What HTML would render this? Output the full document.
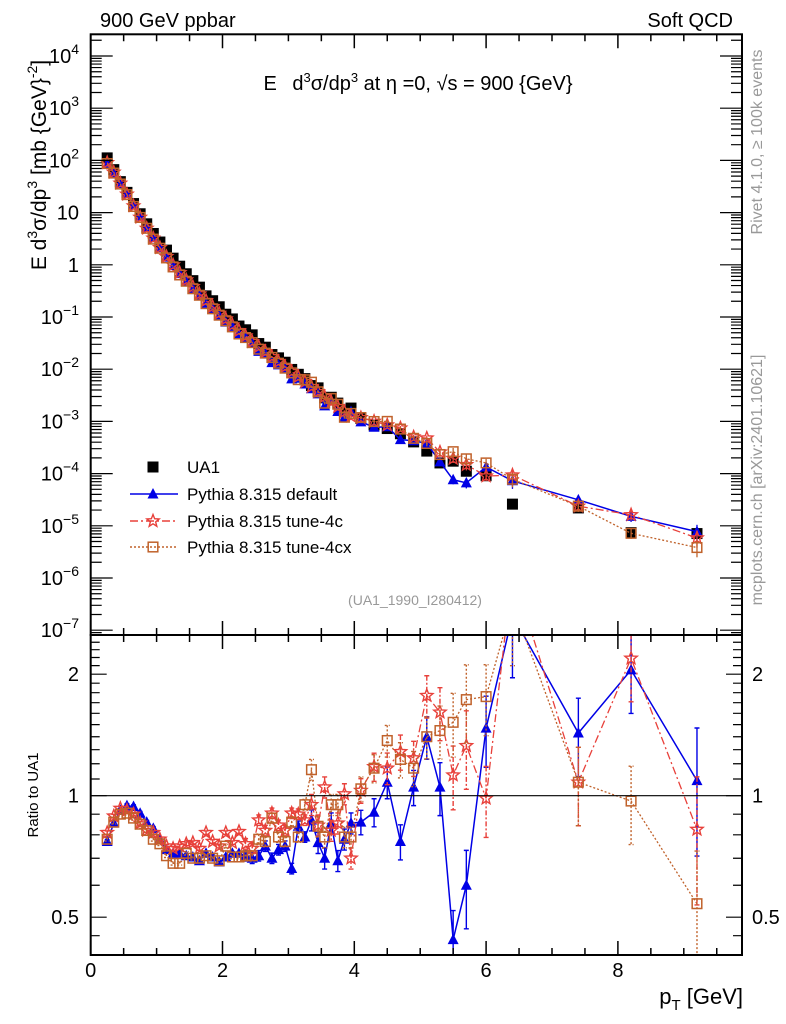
<!DOCTYPE html>
<html><head><meta charset="utf-8">
<style>
html,body{margin:0;padding:0;background:#fff;}
svg{display:block;font-family:"Liberation Sans",Arial,sans-serif;}
</style></head>
<body>
<svg id="chart" xmlns="http://www.w3.org/2000/svg" width="786" height="1024" viewBox="0 0 786 1024">
<defs>
<clipPath id="clipTop"><rect x="90.7" y="34.3" width="651.3" height="600.7"/></clipPath>
<clipPath id="clipRat"><rect x="90.7" y="635" width="651.3" height="320"/></clipPath>
</defs>
<rect x="0" y="0" width="786" height="1024" fill="#fff"/>
<text x="100" y="27" font-size="20">900 GeV ppbar</text>
<text x="733" y="27" font-size="20" text-anchor="end">Soft QCD</text>
<text x="418" y="90" font-size="20" text-anchor="middle">E <tspan dx="10">d</tspan><tspan dy="-8" font-size="13">3</tspan><tspan dy="8">σ/dp</tspan><tspan dy="-8" font-size="13">3</tspan><tspan dy="8"> at η =0, √s = 900 {GeV}</tspan></text>
<text x="415" y="605" font-size="14" fill="#999" text-anchor="middle">(UA1_1990_I280412)</text>
<text transform="translate(762,142) rotate(-90)" font-size="16" fill="#999" text-anchor="middle">Rivet 4.1.0, ≥ 100k events</text>
<text transform="translate(762,480) rotate(-90)" font-size="16" fill="#999" text-anchor="middle">mcplots.cern.ch [arXiv:2401.10621]</text>
<text transform="translate(46,165) rotate(-90)" font-size="21" text-anchor="middle">E d<tspan dy="-9" font-size="14">3</tspan><tspan dy="9">σ/dp</tspan><tspan dy="-9" font-size="14">3</tspan><tspan dy="9"> [mb {GeV}</tspan><tspan dy="-9" font-size="14">-2</tspan><tspan dy="9">]</tspan></text>
<text transform="translate(38,795) rotate(-90)" font-size="15" text-anchor="middle">Ratio to UA1</text>
<text x="743" y="1004" font-size="22" text-anchor="end">p<tspan dy="6" font-size="15">T</tspan><tspan dy="-6"> [GeV]</tspan></text>
<g id="gTop" clip-path="url(#clipTop)"></g>
<g id="gRat" clip-path="url(#clipRat)"></g>
<g id="gAxes"></g>
<g id="gLegend"></g>
</svg>
<script>
const pT = [0.25,0.35,0.45,0.55,0.65,0.75,0.85,0.95,1.05,1.15,1.25,1.35,1.45,1.55,1.65,1.75,1.85,1.95,2.05,2.15,2.25,2.35,2.45,2.55,2.65,2.75,2.85,2.95,3.05,3.15,3.25,3.35,3.45,3.55,3.65,3.75,3.85,3.95,4.1,4.3,4.5,4.7,4.9,5.1,5.3,5.5,5.7,6.0,6.4,7.4,8.2,9.2];
const ua1 = [111.7,66.5,39.2,24.4,14.9,9.5,6.1,3.98,2.73,1.91,1.34,0.94,0.673,0.497,0.373,0.254,0.205,0.157,0.113,0.0918,0.0671,0.0569,0.0455,0.031,0.0264,0.0191,0.0165,0.0136,0.00989,0.00798,0.0066,0.00486,0.00439,0.00283,0.0029,0.00224,0.00152,0.0018,0.00114,8.5e-4,7.3e-4,5.8e-4,4.05e-4,2.7e-4,1.6e-4,1.73e-4,1.11e-4,9.1e-5,2.6e-5,2.2e-5,7.4e-6,7.1e-6];
const ratioDefault = [0.77,0.855,0.92,0.945,0.94,0.905,0.86,0.83,0.78,0.735,0.72,0.72,0.71,0.705,0.69,0.72,0.705,0.685,0.705,0.72,0.72,0.71,0.70,0.71,0.75,0.70,0.735,0.75,0.66,0.84,0.79,0.87,0.765,0.70,0.855,0.69,0.78,0.855,0.86,0.91,1.08,0.77,1.05,1.40,1.05,0.44,0.60,1.47,2.8,1.43,2.05,1.09];
const ratio4c = [0.81,0.89,0.93,0.92,0.90,0.855,0.82,0.81,0.78,0.75,0.74,0.75,0.76,0.765,0.74,0.81,0.77,0.75,0.81,0.765,0.815,0.76,0.74,0.87,0.82,0.905,0.845,0.82,0.905,0.90,0.87,0.95,0.845,1.05,0.82,0.855,1.01,0.70,1.03,1.18,1.17,1.285,1.24,1.77,1.61,1.125,1.33,0.985,3.6,1.08,2.19,0.825];
const ratio4cx = [0.78,0.86,0.90,0.905,0.88,0.85,0.82,0.78,0.76,0.71,0.68,0.68,0.72,0.70,0.70,0.71,0.70,0.69,0.75,0.705,0.705,0.71,0.71,0.78,0.77,0.88,0.79,0.77,0.86,0.79,0.95,1.16,0.84,0.79,0.95,0.95,0.79,0.79,1.04,1.17,1.37,1.23,1.17,1.40,1.45,1.52,1.73,1.76,3.0,1.08,0.97,0.54];
const relErr = [0.01,0.01,0.01,0.01,0.01,0.01,0.01,0.01,0.01,0.01,0.01,0.01,0.01,0.01,0.01,0.01,0.01,0.01,0.01,0.01,0.01,0.03,0.03,0.03,0.03,0.03,0.03,0.03,0.03,0.03,0.03,0.06,0.06,0.06,0.06,0.06,0.06,0.06,0.07,0.08,0.09,0.1,0.1,0.12,0.15,0.18,0.22,0.2,0.3,0.22,0.22,0.35];
const topTicks = ["10^4","10^3","10^2","10","1","10^-1","10^-2","10^-3","10^-4","10^-5","10^-6","10^-7"];
const xTickLabels = [0,2,4,6,8];
const ratioTickLabels = [0.5,1,2];

const NS = "http://www.w3.org/2000/svg";
const L = 90.7, R = 742, T = 34.3, MID = 635, B = 955;
const X = p => L + 65.9 * p;
const YT = v => 56 + 52.2 * (4 - Math.log10(v));
const YR = r => 795.7 - 121.5 * Math.log2(r);
function mk(tag, attrs, parent) {
  const el = document.createElementNS(NS, tag);
  for (const k in attrs) el.setAttribute(k, attrs[k]);
  parent.appendChild(el);
  return el;
}
const gTop = document.getElementById('gTop');
const gRat = document.getElementById('gRat');
const gAxes = document.getElementById('gAxes');
const gLeg = document.getElementById('gLegend');

const BLUE = "#0000e6", RED = "#e8403a", BROWN = "#c0622b";

function drawMarker(type, x, y, parent, name) {
  let el;
  if (type === 'sq') {
    el = mk('rect', {x: x-5.5, y: y-5.5, width: 11, height: 11, fill: '#000'}, parent);
  } else if (type === 'tri') {
    el = mk('path', {d: `M${x},${y-6} L${x+5.5},${y+4.5} L${x-5.5},${y+4.5} Z`, fill: BLUE}, parent);
  } else if (type === 'star') {
    let d = '';
    for (let i = 0; i < 10; i++) {
      const a = -Math.PI/2 + i*Math.PI/5, r = i%2 ? 2.8 : 6.5;
      d += (i ? 'L' : 'M') + (x + r*Math.cos(a)).toFixed(2) + ',' + (y + r*Math.sin(a)).toFixed(2);
    }
    el = mk('path', {d: d + 'Z', fill: 'none', stroke: RED, 'stroke-width': 1.4}, parent);
  } else {
    el = mk('rect', {x: x-4.8, y: y-4.8, width: 9.6, height: 9.6, fill: 'none', stroke: BROWN, 'stroke-width': 1.5}, parent);
  }
  
  
  return el;
}

const series = [
  {key:'default', ratio: ratioDefault, color: BLUE, dash: null, marker: 'tri', w: 1.5},
  {key:'tune-4c', ratio: ratio4c, color: RED, dash: '8,3,2,3', marker: 'star', w: 1.3},
  {key:'tune-4cx', ratio: ratio4cx, color: BROWN, dash: '2,2', marker: 'osq', w: 1.3}
];

// UA1 data points (top)
for (let i = 0; i < pT.length; i++) {
  drawMarker('sq', X(pT[i]), YT(ua1[i]), gTop, 'ua1-point');
}
// MC series
series.forEach(s => {
  const vals = s.ratio.map((r, i) => r * ua1[i]);
  const ptsTop = pT.map((p, i) => X(p).toFixed(2) + ',' + YT(vals[i]).toFixed(2)).join(' ');
  const lt = mk('polyline', {points: ptsTop, fill: 'none', stroke: s.color, 'stroke-width': s.w}, gTop);
  if (s.dash) lt.setAttribute('stroke-dasharray', s.dash);
  
  
  const ptsR = pT.map((p, i) => X(p).toFixed(2) + ',' + YR(s.ratio[i]).toFixed(2)).join(' ');
  const lr = mk('polyline', {points: ptsR, fill: 'none', stroke: s.color, 'stroke-width': s.w}, gRat);
  if (s.dash) lr.setAttribute('stroke-dasharray', s.dash);
  
  
  for (let i = 0; i < pT.length; i++) {
    const x = X(pT[i]);
    const r = s.ratio[i], e = r * relErr[i];
    const y1 = YR(r + e), y2 = YR(Math.max(r - e, 0.01));
    const eb = mk('path', {d: `M${x},${y1}L${x},${y2}M${x-2.5},${y1}L${x+2.5},${y1}M${x-2.5},${y2}L${x+2.5},${y2}`, stroke: s.color, 'stroke-width': 1.4, fill: 'none'}, gRat);
    if (s.dash) eb.setAttribute('stroke-dasharray', s.dash === '2,2' ? '2,2' : '5,2,2,2');
    
    
    const vy = vals[i], ve = vy * relErr[i];
    if (relErr[i] > 0.05) {
      const t1 = YT(vy + ve), t2 = YT(vy - ve);
      const et = mk('path', {d: `M${x},${t1}L${x},${t2}`, stroke: s.color, 'stroke-width': 1.3}, gTop);
      
      
    }
    drawMarker(s.marker, x, YT(vy), gTop, 'point-' + s.key);
    drawMarker(s.marker, x, YR(r), gRat, 'ratio-point-' + s.key);
  }
});
// ratio 1 line
const one = mk('line', {x1: L, x2: R, y1: YR(1), y2: YR(1), stroke: '#000', 'stroke-width': 1.2}, gAxes);



// frames
const f1 = mk('rect', {x: L, y: T, width: R-L, height: MID-T, fill: 'none', stroke: '#000', 'stroke-width': 2}, gAxes);


const f2 = mk('rect', {x: L, y: MID, width: R-L, height: B-MID, fill: 'none', stroke: '#000', 'stroke-width': 2}, gAxes);



// x ticks
let d = '';
for (let k = 0; k * 0.5 <= 9.9; k++) {
  const p = k * 0.5, x = X(p), len = (k % 4 === 0) ? 14 : 7;
  d += `M${x},${T}L${x},${T+len}M${x},${MID}L${x},${MID-len}M${x},${MID}L${x},${MID+len}M${x},${B}L${x},${B-len}`;
}
const xt = mk('path', {d: d, stroke: '#000', 'stroke-width': 1.5, fill: 'none'}, gAxes);


xTickLabels.forEach(v => {
  const t = mk('text', {x: X(v), y: 977, 'font-size': 20, 'text-anchor': 'middle'}, gAxes);
  t.textContent = String(v);
  
  
});

// top y ticks
d = '';
for (let e = -8; e <= 4; e++) {
  for (let m = 1; m <= 9; m++) {
    const v = m * Math.pow(10, e), y = YT(v);
    if (y < T + 0.5 || y > MID - 0.5) continue;
    const len = m === 1 ? 22 : 11;
    d += `M${L},${y}L${L+len},${y}M${R},${y}L${R-len},${y}`;
  }
}
const yt = mk('path', {d: d, stroke: '#000', 'stroke-width': 1.2, fill: 'none'}, gAxes);


topTicks.forEach((lab, i) => {
  const y = YT(Math.pow(10, 4 - i)) + 7;
  const t = mk('text', {x: 79, y: y, 'font-size': 20, 'text-anchor': 'end'}, gAxes);
  
  
  if (lab.indexOf('^') >= 0) {
    const parts = lab.split('^');
    const b = document.createElementNS(NS, 'tspan'); b.textContent = parts[0]; t.appendChild(b);
    const s = document.createElementNS(NS, 'tspan'); s.setAttribute('dy', '-9'); s.setAttribute('font-size', '14');
    s.textContent = parts[1].replace('-', '−'); t.appendChild(s);
  } else t.textContent = lab;
});

// ratio y ticks
d = '';
const rMinor = [0.45,0.6,0.7,0.8,0.9,1.1,1.2,1.3,1.4,1.5,1.6,1.7,1.8,1.9,2.1,2.2,2.3,2.4,2.5];
rMinor.forEach(r => { const y = YR(r); if (y > MID && y < B) d += `M${L},${y}L${L+9},${y}M${R},${y}L${R-9},${y}`; });
ratioTickLabels.forEach(r => { const y = YR(r); d += `M${L},${y}L${L+16},${y}M${R},${y}L${R-16},${y}`; });
const rt = mk('path', {d: d, stroke: '#000', 'stroke-width': 1.2, fill: 'none'}, gAxes);


ratioTickLabels.forEach(r => {
  const t1 = mk('text', {x: 79, y: YR(r) + 7, 'font-size': 20, 'text-anchor': 'end'}, gAxes);
  t1.textContent = String(r);
  
  
  const t2 = mk('text', {x: 752, y: YR(r) + 7, 'font-size': 20}, gAxes);
  t2.textContent = String(r);
  
  
});

// legend
const legRows = [
  {y: 467, label: 'UA1', m: 'sq', color: null, dash: null},
  {y: 494, label: 'Pythia 8.315 default', m: 'tri', color: BLUE, dash: null},
  {y: 521, label: 'Pythia 8.315 tune-4c', m: 'star', color: RED, dash: '8,3,2,3'},
  {y: 547, label: 'Pythia 8.315 tune-4cx', m: 'osq', color: BROWN, dash: '2,2'}
];
legRows.forEach(row => {
  if (row.color) {
    const ln = mk('line', {x1: 130, x2: 178, y1: row.y, y2: row.y, stroke: row.color, 'stroke-width': 1.4}, gLeg);
    if (row.dash) ln.setAttribute('stroke-dasharray', row.dash);
    
    
  }
  drawMarker(row.m, 153, row.y, gLeg, 'legend-marker');
  const t = mk('text', {x: 187, y: row.y + 6, 'font-size': 17}, gLeg);
  t.textContent = row.label;
  
  
});
</script>
</body></html>
